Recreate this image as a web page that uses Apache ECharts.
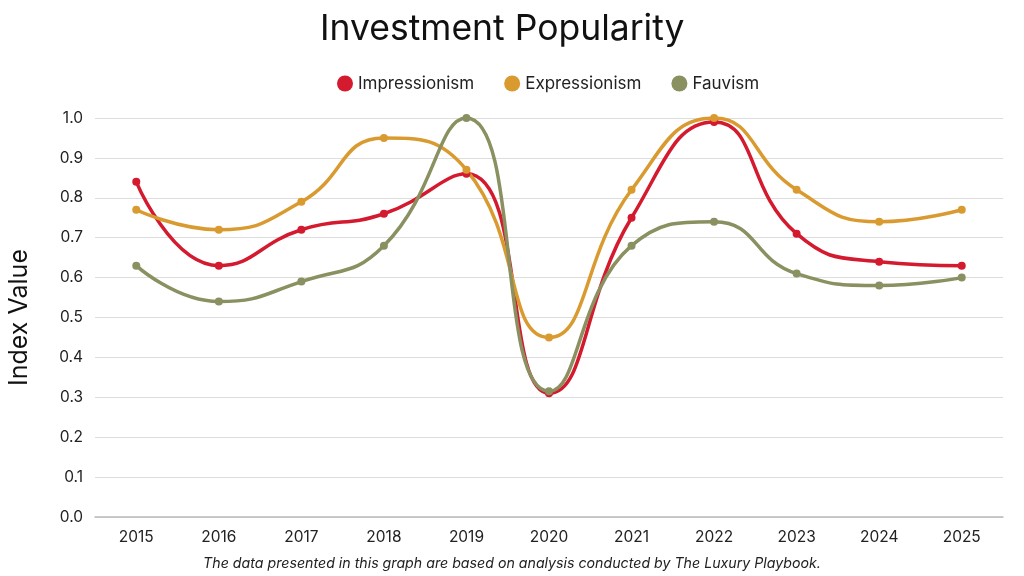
<!DOCTYPE html>
<html><head><meta charset="utf-8">
<script src="https://cdn.jsdelivr.net/npm/echarts@6/dist/echarts.min.js"></script>
<style>html,body{margin:0;padding:0;background:#fff}#c{width:1024px;height:576px}</style>
</head><body><div id="c"></div>
<script>
const years = ['2015','2016','2017','2018','2019','2020','2021','2022','2023','2024','2025'];
const impressionism = [0.84,0.63,0.72,0.76,0.86,0.31,0.75,0.99,0.71,0.64,0.63];
const expressionism = [0.77,0.72,0.79,0.95,0.87,0.45,0.82,1.00,0.82,0.74,0.77];
const fauvism = [0.63,0.54,0.59,0.68,1.00,0.315,0.68,0.74,0.61,0.58,0.60];
const seriesNames = ['Impressionism','Expressionism','Fauvism'];
const colors = ['#d41a2e','#d99a30','#8a9060'];
const FONT = 'Inter, "Open Sans", sans-serif';
const chart = echarts.init(document.getElementById('c'));
const mk = (name, data, color) => ({
  name, type:'line', data, smooth:0.5, symbol:'circle', symbolSize:8,
  lineStyle:{width:3.5,color}, itemStyle:{color}
});
chart.setOption({
  animation:false,
  color: colors,
  title:{text:'Investment Popularity', left:315, top:6,
    textStyle:{fontFamily:FONT,fontSize:35.5,fontWeight:'normal',color:'#111'}},
  legend:{top:70,left:332,icon:'circle',itemWidth:16,itemHeight:16,itemGap:30,
    data:seriesNames,textStyle:{fontFamily:FONT,fontSize:17,color:'#222'}},
  grid:{left:95,right:21,top:118,bottom:59,outerBoundsMode:'none',containLabel:false},
  xAxis:{type:'category',data:years,boundaryGap:true,
    axisLine:{lineStyle:{color:'#bbb',width:1.5}},axisTick:{show:false},
    axisLabel:{fontFamily:FONT,fontSize:15.5,color:'#222',margin:12}},
  yAxis:{type:'value',min:0,max:1,interval:0.1,name:'Index Value',nameLocation:'middle',nameGap:63,
    nameTextStyle:{fontFamily:FONT,fontSize:25,color:'#111'},
    axisLabel:{fontFamily:FONT,fontSize:15.5,color:'#222',margin:12,formatter:v=>v.toFixed(1)},
    splitLine:{lineStyle:{color:'#ddd',width:1}}},
  graphic:[{type:'text',left:'center',top:557,style:{text:'The data presented in this graph are based on analysis conducted by The Luxury Playbook.',
    fontFamily:FONT,fontSize:14.2,fontStyle:'italic',fill:'#222'}}],
  series:[mk(seriesNames[0],impressionism,colors[0]),mk(seriesNames[1],expressionism,colors[1]),mk(seriesNames[2],fauvism,colors[2])]
});
</script></body></html>
